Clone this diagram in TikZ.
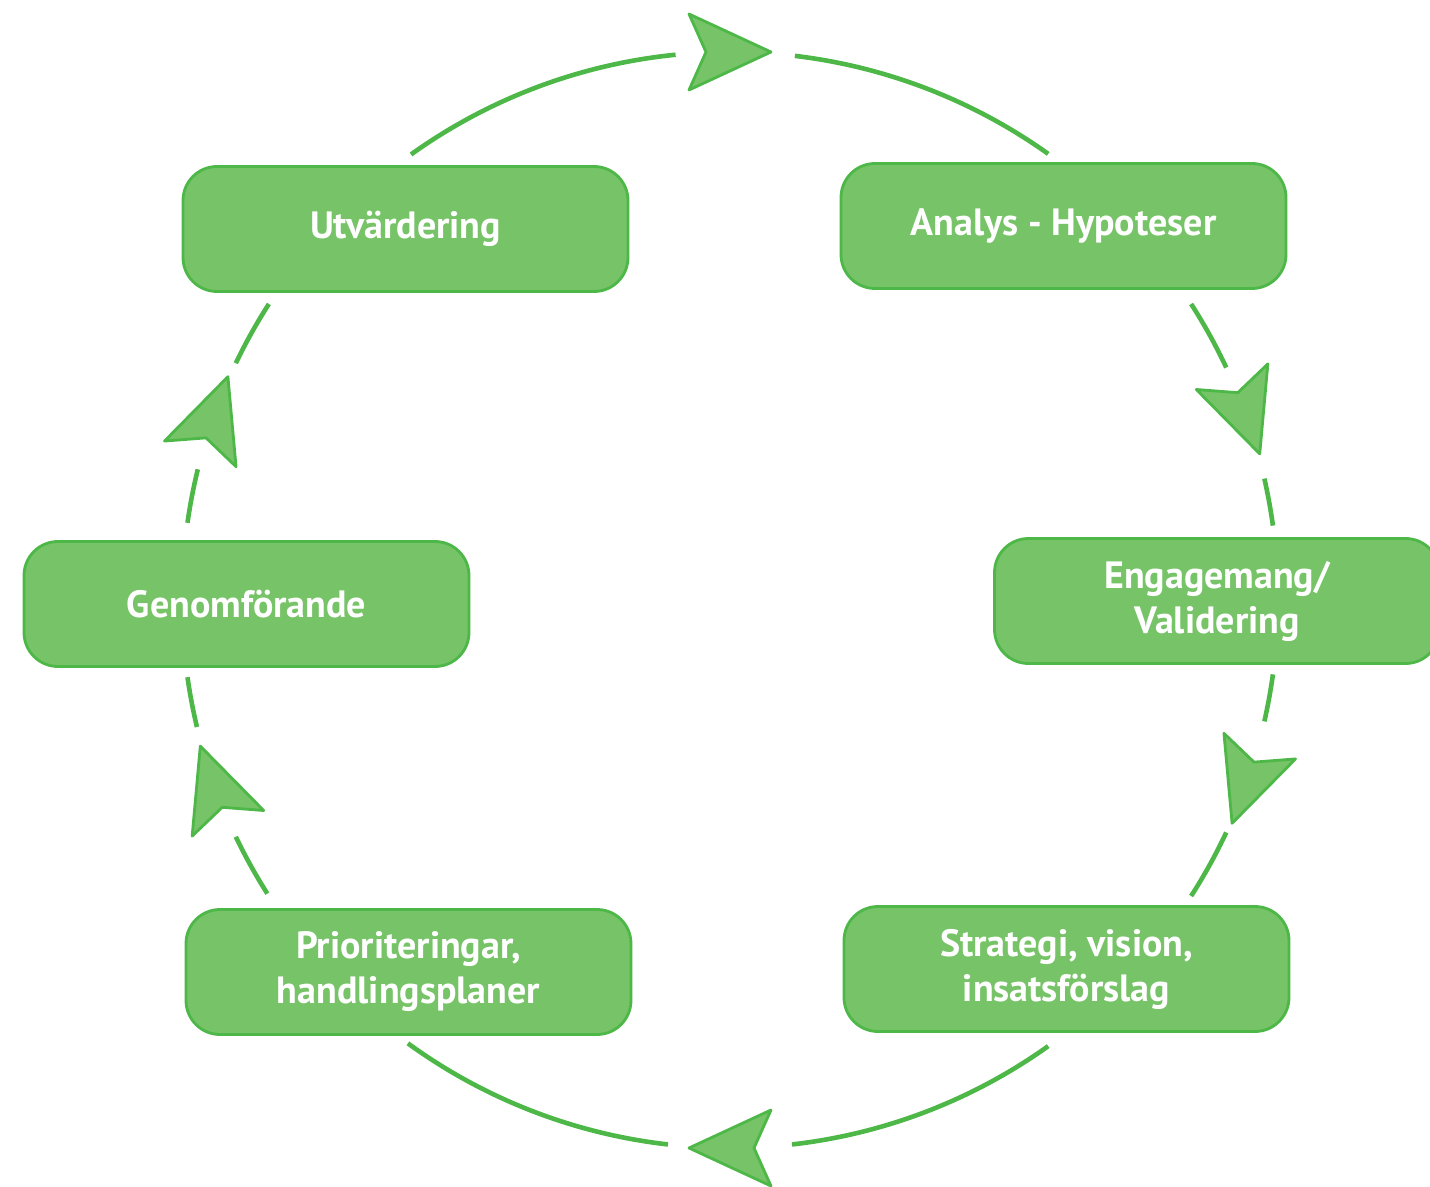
\documentclass[tikz,border=0pt]{standalone}
\usepackage{fontspec}
\setmainfont{PT Sans}
\usetikzlibrary{calc}
\definecolor{boxfill}{HTML}{77C368}
\definecolor{ringgreen}{HTML}{4DB748}
\begin{document}
\begin{tikzpicture}[x=0.5pt,y=0.5pt,
  stagebox/.style={draw=ringgreen, line width=1.4pt, fill=boxfill, rounded corners=17pt,
    minimum width=222.5pt, minimum height=62.5pt, inner sep=0pt,
    text=white, font=\fontsize{19}{22.5}\selectfont\bfseries, align=center},
  ring/.style={draw=ringgreen, line width=2.3pt},
  headstyle/.style={draw=ringgreen, fill=boxfill, line width=1.4pt, line join=round},
  arrowhead/.pic={\path[headstyle] (41,0) -- (-41,38) -- (-24,0) -- (-41,-38) -- cycle;}
]
\useasboundingbox (0,0) rectangle (1430,-1187);
\clip (0,0) rectangle (1430,-1187);
\coordinate (C) at (730,-600);

% ring segments
\foreach \a/\b in {125.6/95.7, 83.2/54.5, 32.7/25.1, 12.8/7.8, -7.8/-12.8, -25.1/-32.7,
                   -54.5/-83.5, -96.5/-126, 212.4/205.6, 193.4/188.1, 171.9/166.2, 154.4/147.3}
  \draw[ring] (C) ++(\a:548) arc[start angle=\a, end angle=\b, radius=548];

% arrowheads
\foreach \a in {90, 19.7, -19.7, -90, 199.7, 160.3}
  \pic[rotate=\a-90] at ($(C)+(\a:548)$) {arrowhead};

% boxes
\node[stagebox] (utv) at (405.5,-229) {Utvärdering};
\node[stagebox] (ana) at (1063.5,-226) {Analys - Hypoteser};
\node[stagebox] (eng) at (1217,-601) {Engagemang/\\Validering};
\node[stagebox] (gen) at (246.5,-604) {Genomförande};
\node[stagebox] (pri) at (408.5,-972) {Prioriteringar,\\handlingsplaner};
\node[stagebox] (str) at (1066.5,-969) {Strategi, vision,\\insatsförslag};
\end{tikzpicture}
\end{document}
